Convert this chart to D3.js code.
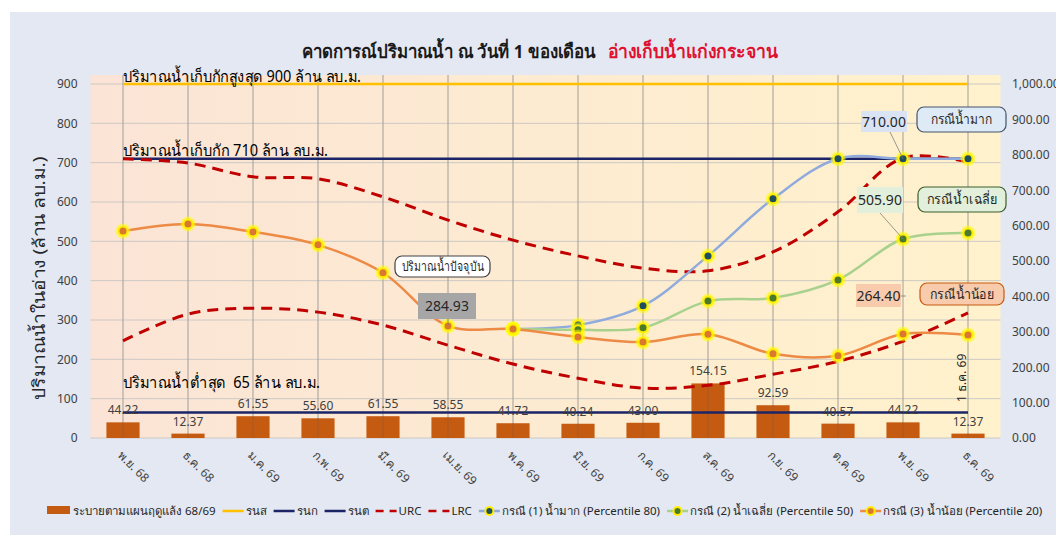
<!DOCTYPE html>
<html>
<head>
<meta charset="utf-8">
<script src="https://cdn.jsdelivr.net/npm/d3@7"></script>
<style>
  html, body { margin: 0; padding: 0; background: #ffffff; }
  svg { display: block; font-family: Tahoma, "Noto Sans", "DejaVu Sans", sans-serif; }
</style>
</head>
<body>
<svg id="chart" width="1056" height="535"></svg>
<script>
// Months (Thai abbreviations)
const months = ["พ.ย. 68","ธ.ค. 68","ม.ค. 69","ก.พ. 69","มี.ค. 69","เม.ย. 69","พ.ค. 69",
                "มิ.ย. 69","ก.ค. 69","ส.ค. 69","ก.ย. 69","ต.ค. 69","พ.ย. 69","ธ.ค. 69"];

// Planned dry-season release (right axis)
const releasePlan = [44.22, 12.37, 61.55, 55.60, 61.55, 58.55, 41.72, 40.24, 43.00, 154.15, 92.59, 40.57, 44.22, 12.37];

// Reference storage levels (left axis)
const maxStorage = 900;   // รนส
const normStorage = 710;  // รนก
const minStorage = 65;    // รนต

// Rule curves (left axis)
const urc = [710, 699, 664, 659, 613, 554, 503, 463, 432, 425, 473, 575, 712, 702];
const lrc = [247, 315, 330, 320, 287, 236, 188, 152, 127, 134, 162, 195, 246, 318];

// Forecast scenarios (left axis); null = not drawn
const caseHigh = [null, null, null, null, null, null, 277, 287, 336, 463, 608, 710, 710, 710];
const caseMid  = [null, null, null, null, null, null, 277, 275, 280, 348, 356, 402, 505.90, 521];
const caseLow  = [526, 544, 524, 491, 420, 284.93, 277, 257, 244, 264, 214, 209, 264.40, 262];

// Axis ticks
const leftTicks = d3.range(0, 901, 100);
const rightTicks = d3.range(0, 1001, 100);

const svg = d3.select("#chart");
const defs = svg.append("defs");

// Squeeze or stretch a text node to a given width
function fit(sel, w) {
  sel.attr("textLength", w).attr("lengthAdjust", "spacingAndGlyphs");
  return sel;
}

// Frame background
svg.append("rect").attr("x", 10).attr("y", 12).attr("width", 1046).attr("height", 523).attr("fill", "#e3e8f2");

const plot = { left: 90.5, right: 1000.5, top: 75, bottom: 438 };

const x = d3.scaleBand().domain(months).range([plot.left, plot.right])
  .paddingInner(0.49).paddingOuter(0.245);
const cx = d => x(d) + x.bandwidth() / 2;
const yL = d3.scaleLinear().domain([0, 900]).range([438, 84]);
const yR = d3.scaleLinear().domain([0, 1000]).range([438, 84]);

// Plot background: peach to pale yellow
const grad = defs.append("linearGradient").attr("id", "plotBg")
  .attr("x1", "0%").attr("x2", "100%").attr("y1", "0%").attr("y2", "0%");
grad.append("stop").attr("offset", "0%").attr("stop-color", "#fbe4d6");
grad.append("stop").attr("offset", "100%").attr("stop-color", "#fff2cc");
svg.append("rect").attr("x", plot.left).attr("y", plot.top)
  .attr("width", plot.right - plot.left).attr("height", plot.bottom - plot.top)
  .attr("fill", "url(#plotBg)");

// Horizontal gridlines
svg.append("g").selectAll("line").data(leftTicks).join("line")
  .attr("x1", plot.left).attr("x2", plot.right)
  .attr("y1", d => yL(d)).attr("y2", d => yL(d))
  .attr("stroke", "#cdc8c4").attr("stroke-width", 1);

// Vertical gridlines
svg.append("g").selectAll("line").data(months).join("line")
  .attr("x1", d => cx(d)).attr("x2", d => cx(d))
  .attr("y1", plot.top).attr("y2", plot.bottom)
  .attr("stroke", "#a39d99").attr("stroke-width", 1);

const tickFont = "Tahoma, 'Noto Sans', 'DejaVu Sans', sans-serif";

// Left axis
const axL = svg.append("g").attr("transform", `translate(${plot.left},0)`)
  .call(d3.axisLeft(yL).tickValues(leftTicks).tickSize(0).tickPadding(13));
axL.select(".domain").remove();
axL.selectAll("text").attr("fill", "#404040").style("font-size", "12px").style("font-family", tickFont);

// Right axis
const axR = svg.append("g").attr("transform", `translate(${plot.right},0)`)
  .call(d3.axisRight(yR).tickValues(rightTicks).tickSize(0).tickPadding(11.5).tickFormat(d3.format(",.2f")));
axR.select(".domain").remove();
axR.selectAll("text").attr("fill", "#404040").style("font-size", "12px").style("font-family", tickFont);

// Bottom axis with rotated labels
const axB = svg.append("g").attr("transform", `translate(0,${plot.bottom})`)
  .call(d3.axisBottom(x).tickSize(0));
axB.select(".domain").remove();
axB.selectAll("text")
  .attr("text-anchor", "start")
  .attr("transform", "translate(-3,15) rotate(45)")
  .attr("dy", "0.35em").attr("y", 0)
  .attr("fill", "#404040").style("font-size", "12px").style("font-family", tickFont);

// Release bars
svg.append("g").selectAll("rect").data(releasePlan).join("rect")
  .attr("x", (d, i) => x(months[i])).attr("width", x.bandwidth())
  .attr("y", d => yR(d)).attr("height", d => yR(0) - yR(d))
  .attr("fill", "#c55a11");
// Gridline continues faintly through each bar
svg.append("g").selectAll("line").data(releasePlan).join("line")
  .attr("x1", (d, i) => cx(months[i])).attr("x2", (d, i) => cx(months[i]))
  .attr("y1", d => yR(d)).attr("y2", plot.bottom)
  .attr("stroke", "#8a5a3a").attr("stroke-width", 1).attr("opacity", 0.5);

// Reference level lines
const levelLines = [
  { v: maxStorage, color: "#ffc000", label: "ปริมาณน้ำเก็บกักสูงสุด 900 ล้าน ลบ.ม.", dy: -2, w: 238 },
  { v: normStorage, color: "#1a2466", label: "ปริมาณน้ำเก็บกัก 710 ล้าน ลบ.ม.", dy: -3, w: 205 },
  { v: minStorage, color: "#1a2466", label: "ปริมาณน้ำต่ำสุด  65 ล้าน ลบ.ม.", dy: -24, w: 197 }
];
const x0 = cx(months[0]), x1 = cx(months[months.length - 1]);
svg.append("g").selectAll("line").data(levelLines).join("line")
  .attr("x1", x0).attr("x2", x1)
  .attr("y1", d => yL(d.v)).attr("y2", d => yL(d.v))
  .attr("stroke", d => d.color).attr("stroke-width", 2.5);
svg.append("g").selectAll("text").data(levelLines).join("text")
  .attr("x", x0).attr("y", d => yL(d.v) + d.dy)
  .attr("fill", "#000").style("font-size", "15.5px").style("white-space", "pre")
  .attr("textLength", d => d.w).attr("lengthAdjust", "spacingAndGlyphs")
  .text(d => d.label);

// Bar value labels
svg.append("g").selectAll("text").data(releasePlan).join("text")
  .attr("x", (d, i) => cx(months[i])).attr("y", d => yR(d) - 8)
  .attr("text-anchor", "middle").attr("fill", "#404040").style("font-size", "12px").style("font-family", tickFont)
  .text(d => d3.format(".2f")(d));

// Rule curves
const curve = d3.curveCatmullRom.alpha(0.5);
const lineL = d3.line()
  .defined(d => d != null)
  .x((d, i) => cx(months[i])).y(d => yL(d)).curve(curve);

svg.append("path").attr("d", lineL(urc)).attr("fill", "none")
  .attr("stroke", "#c00000").attr("stroke-width", 3).attr("stroke-dasharray", "11,7");
svg.append("path").attr("d", lineL(lrc)).attr("fill", "none")
  .attr("stroke", "#c00000").attr("stroke-width", 3).attr("stroke-dasharray", "11,7");

// Scenario lines
const scenarios = [
  { data: caseHigh, line: "#8faadc", dot: "#1f4e5f" },
  { data: caseMid, line: "#a9d18e", dot: "#4a7a2a" },
  { data: caseLow, line: "#ed8a45", dot: "#d9782e" }
];
scenarios.forEach(s => {
  svg.append("path").attr("d", lineL(s.data)).attr("fill", "none")
    .attr("stroke", s.line).attr("stroke-width", 2.5);
});
scenarios.forEach(s => {
  const pts = s.data.map((d, i) => ({ d, i })).filter(p => p.d != null);
  const g = svg.append("g");
  g.selectAll("circle.glow").data(pts).join("circle").attr("class", "glow")
    .attr("cx", p => cx(months[p.i])).attr("cy", p => yL(p.d)).attr("r", 7.5)
    .attr("fill", "#ffff00").attr("opacity", 0.5);
  g.selectAll("circle.ring").data(pts).join("circle").attr("class", "ring")
    .attr("cx", p => cx(months[p.i])).attr("cy", p => yL(p.d)).attr("r", 5.5)
    .attr("fill", "#ffee00");
  g.selectAll("circle.dot").data(pts).join("circle").attr("class", "dot")
    .attr("cx", p => cx(months[p.i])).attr("cy", p => yL(p.d)).attr("r", 3.5)
    .attr("fill", s.dot);
});

// Callout boxes
function valueBox(text, bx, by, w, h, fill, px, py, lx, ly) {
  svg.append("line").attr("x1", lx).attr("y1", ly).attr("x2", px).attr("y2", py)
    .attr("stroke", "#7f7f7f").attr("stroke-width", 0.8);
  svg.append("rect").attr("x", bx).attr("y", by).attr("width", w).attr("height", h).attr("fill", fill);
  svg.append("text").attr("x", bx + w / 2).attr("y", by + h / 2).attr("dy", "0.36em")
    .attr("text-anchor", "middle").attr("fill", "#262626").style("font-size", "14px")
    .style("font-family", tickFont).text(text);
}
function tagBox(text, bx, by, w, h, fill, stroke, tw) {
  svg.append("rect").attr("x", bx).attr("y", by).attr("width", w).attr("height", h)
    .attr("rx", 7).attr("fill", fill).attr("stroke", stroke).attr("stroke-width", 1.2);
  const t = svg.append("text").attr("x", bx + w / 2).attr("y", by + h / 2).attr("dy", "0.36em")
    .attr("text-anchor", "middle").attr("fill", "#262626").style("font-size", "13.5px").text(text);
  fit(t, tw);
}
const iNov69 = 12, iApr69 = 5;
valueBox(d3.format(".2f")(caseHigh[iNov69]), 861, 111, 46, 21, "#dae3f3",
  cx(months[iNov69]), yL(caseHigh[iNov69]), 890, 132);
valueBox(d3.format(".2f")(caseMid[iNov69]), 857, 187, 46, 26, "#e2efda",
  cx(months[iNov69]), yL(caseMid[iNov69]), 880, 213);
valueBox(d3.format(".2f")(caseLow[iNov69]), 856, 284, 45, 23, "#f8cbad",
  906, 296, 901, 296);
valueBox(d3.format(".2f")(caseLow[iApr69]), 418, 293, 58, 26, "#a6a6a6",
  cx(months[iApr69]), yL(caseLow[iApr69]), 448, 319);
tagBox("กรณีน้ำมาก", 917, 107, 89, 25, "#deebf7", "#44546a", 62);
tagBox("กรณีน้ำเฉลี่ย", 918, 187, 88, 25, "#e2efda", "#3b5e2b", 70);
tagBox("กรณีน้ำน้อย", 920, 283, 84, 22, "#f8cbad", "#c55a11", 64);
tagBox("ปริมาณน้ำปัจจุบัน", 395, 256, 95, 21, "#ffffff", "#404040", 82);

// Date marker at last month
svg.append("text").attr("transform", `translate(${cx(months[13]) - 2},402) rotate(-90)`)
  .attr("fill", "#262626").style("font-size", "12px").text("1 ธ.ค. 69");

// Y axis title
fit(svg.append("text").attr("transform", "translate(45,278) rotate(-90)")
  .attr("text-anchor", "middle").attr("fill", "#262626").style("font-size", "16.5px")
  .text("ปริมาณน้ำในอ่าง (ล้าน ลบ.ม.)"), 243);

// Title
fit(svg.append("text").attr("x", 302).attr("y", 58).style("font-size", "18.5px").style("font-weight", "bold")
  .attr("fill", "#1a1a1a").text("คาดการณ์ปริมาณน้ำ ณ วันที่ 1 ของเดือน"), 294);
fit(svg.append("text").attr("x", 608).attr("y", 58).style("font-size", "18.5px").style("font-weight", "bold")
  .attr("fill", "#e0102f").text("อ่างเก็บน้ำแก่งกระจาน"), 170);

// Legend, laid out left to right
const lg = svg.append("g").style("font-size", "11.5px").style("white-space", "pre");
const ly = 511;
let lx = 47;
function legendText(label) {
  const t = lg.append("text").attr("x", lx).attr("y", ly).attr("dy", "0.35em").attr("fill", "#262626").text(label);
  lx += t.node().getComputedTextLength();
}
lg.append("rect").attr("x", lx).attr("y", 506).attr("width", 23).attr("height", 8).attr("fill", "#c55a11");
lx += 26;
legendText("ระบายตามแผนฤดูแล้ง 68/69");
const lineItems = [
  { color: "#ffc000", dash: null, label: "รนส" },
  { color: "#1a2466", dash: null, label: "รนก" },
  { color: "#1a2466", dash: null, label: "รนต" },
  { color: "#c00000", dash: "8,6", label: "URC" },
  { color: "#c00000", dash: "8,6", label: "LRC" }
];
lineItems.forEach(it => {
  lx += 7;
  lg.append("line").attr("x1", lx).attr("x2", lx + 21).attr("y1", ly).attr("y2", ly)
    .attr("stroke", it.color).attr("stroke-width", 2.5).attr("stroke-dasharray", it.dash);
  lx += 23;
  legendText(it.label);
});
const markerItems = [
  { s: scenarios[0], label: "กรณี (1) น้ำมาก  (Percentile 80)" },
  { s: scenarios[1], label: "กรณี (2) น้ำเฉลี่ย  (Percentile 50)" },
  { s: scenarios[2], label: "กรณี (3) น้ำน้อย (Percentile 20)" }
];
markerItems.forEach(it => {
  lx += 7;
  lg.append("line").attr("x1", lx).attr("x2", lx + 21).attr("y1", ly).attr("y2", ly)
    .attr("stroke", it.s.line).attr("stroke-width", 2.5);
  lg.append("circle").attr("cx", lx + 10.5).attr("cy", ly).attr("r", 5).attr("fill", "#ffee00");
  lg.append("circle").attr("cx", lx + 10.5).attr("cy", ly).attr("r", 3).attr("fill", it.s.dot);
  lx += 23;
  legendText(it.label);
});
</script>
</body>
</html>
